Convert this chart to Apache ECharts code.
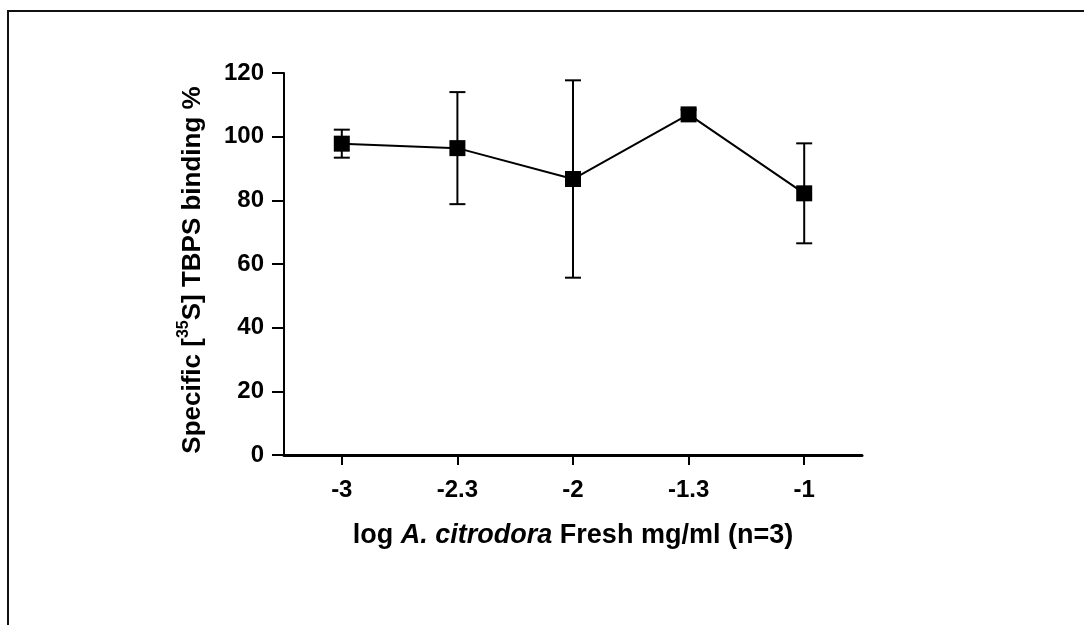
<!DOCTYPE html>
<html>
<head>
<meta charset="utf-8">
<script src="https://cdn.jsdelivr.net/npm/echarts@6/dist/echarts.min.js"></script>
<style>
html,body{margin:0;padding:0;background:#fff;}
#c{width:1084px;height:625px;}
</style>
</head>
<body>
<div id="c"></div>
<script>
const categories = ['-3', '-2.3', '-2', '-1.3', '-1'];
const means = [97.8, 96.4, 86.7, 107.0, 82.2];
const errors = [4.4, 17.6, 31.0, 1.5, 15.7];
const yTicks = [0, 20, 40, 60, 80, 100, 120];

const FONT = '"Liberation Sans", Arial, sans-serif';
const chart = echarts.init(document.getElementById('c'), null, {renderer: 'canvas'});

const errData = categories.map((c, i) => [i, means[i] - errors[i], means[i] + errors[i]]);

chart.setOption({
  backgroundColor: '#fff',
  animation: false,
  graphic: [{
    type: 'rect',
    shape: {x: 8, y: 11, width: 1200, height: 1000},
    style: {fill: 'none', stroke: '#111', lineWidth: 2},
    z: 0
  }],
  grid: {left: 284, right: 222, top: 73, bottom: 170, containLabel: false},
  xAxis: {
    type: 'category',
    data: categories,
    boundaryGap: true,
    axisLine: {show: true, lineStyle: {color: '#000', width: 3}},
    axisTick: {show: true, alignWithLabel: true, length: 10, lineStyle: {color: '#000', width: 2}},
    axisLabel: {color: '#000', fontFamily: FONT, fontWeight: 'bold', fontSize: 24, margin: 23},
    splitLine: {show: false},
    name: '{n|log }{i|A. citrodora}{n| Fresh mg/ml (n=3)}',
    nameLocation: 'middle',
    nameGap: 67,
    nameTextStyle: {
      rich: {
        n: {color: '#000', fontFamily: FONT, fontWeight: 'bold', fontSize: 27},
        i: {color: '#000', fontFamily: FONT, fontWeight: 'bold', fontStyle: 'italic', fontSize: 27}
      }
    }
  },
  yAxis: {
    type: 'value',
    min: 0, max: 120, interval: 20,
    axisLine: {show: true, onZero: false, lineStyle: {color: '#000', width: 2}},
    axisTick: {show: true, length: 12, lineStyle: {color: '#000', width: 2}},
    axisLabel: {color: '#000', fontFamily: FONT, fontWeight: 'bold', fontSize: 24, margin: 20,
      formatter: v => yTicks.includes(v) ? String(v) : ''},
    splitLine: {show: false},
    name: '{n|Specific [}{s|35}{n|S] TBPS binding %}',
    nameLocation: 'middle',
    nameRotate: 90,
    nameGap: 78,
    nameTextStyle: {
      padding: [0, 12, 0, 0],
      rich: {
        n: {color: '#000', fontFamily: FONT, fontWeight: 'bold', fontSize: 26, lineHeight: 30, verticalAlign: 'bottom'},
        s: {color: '#000', fontFamily: FONT, fontWeight: 'bold', fontSize: 16, lineHeight: 30, verticalAlign: 'top', padding: [0, 0, 10, 0]}
      }
    }
  },
  series: [
    {
      type: 'custom',
      z: 2,
      data: errData,
      renderItem: function (params, api) {
        const x = api.value(0);
        const lo = api.coord([x, api.value(1)]);
        const hi = api.coord([x, api.value(2)]);
        const hw = 8;
        const st = {stroke: '#000', lineWidth: 2, fill: 'none'};
        return {
          type: 'group',
          children: [
            {type: 'line', shape: {x1: hi[0], y1: hi[1], x2: lo[0], y2: lo[1]}, style: st},
            {type: 'line', shape: {x1: hi[0] - hw, y1: hi[1], x2: hi[0] + hw, y2: hi[1]}, style: st},
            {type: 'line', shape: {x1: lo[0] - hw, y1: lo[1], x2: lo[0] + hw, y2: lo[1]}, style: st}
          ]
        };
      }
    },
    {
      type: 'line',
      z: 3,
      data: means,
      symbol: 'rect',
      symbolSize: 16,
      showAllSymbol: true,
      itemStyle: {color: '#000'},
      lineStyle: {color: '#000', width: 2}
    }
  ]
});
</script>
</body>
</html>
